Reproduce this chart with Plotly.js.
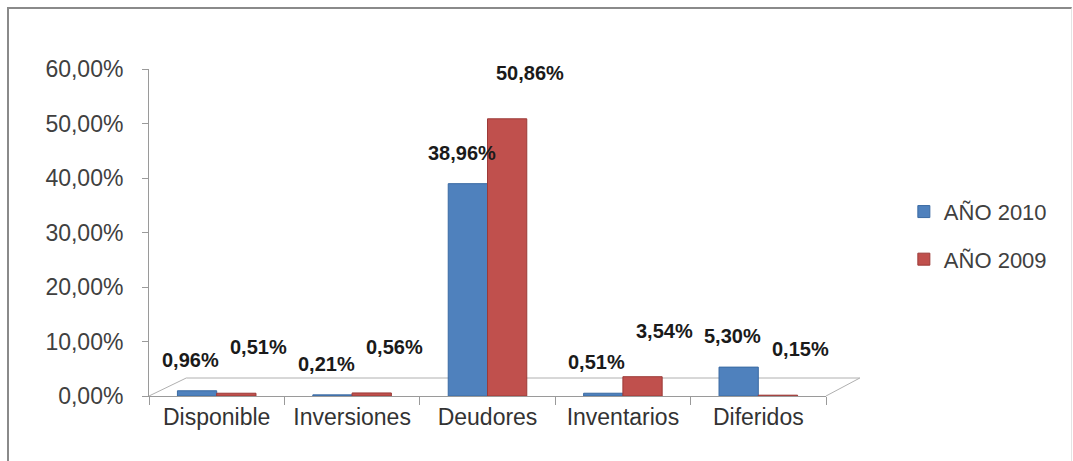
<!DOCTYPE html>
<html>
<head>
<meta charset="utf-8">
<script src="https://cdn.plot.ly/plotly-3.0.1.min.js"></script>
<style>
html,body{margin:0;padding:0;background:#fff;}
#chart{width:1073px;height:461px;}
#frame{position:absolute;left:7px;top:7px;width:1062px;height:470px;border-left:2px solid #8a8a8a;border-top:2px solid #8a8a8a;border-right:1px solid #e4e4e4;pointer-events:none;}
</style>
</head>
<body>
<div id="chart"></div>
<div id="frame"></div>
<script>
const categories = ["Disponible", "Inversiones", "Deudores", "Inventarios", "Diferidos"];
const seriesNames = ["AÑO 2010", "AÑO 2009"];
const values2010 = [0.96, 0.21, 38.96, 0.51, 5.30];
const values2009 = [0.51, 0.56, 50.86, 3.54, 0.15];
const yTicks = [0, 10, 20, 30, 40, 50, 60];
const yTickText = yTicks.map(v => v.toFixed(2).replace(".", ",") + "%");

const fmt = v => v.toFixed(2).replace(".", ",") + "%";
const labelFont = {family: "Liberation Sans, Arial, sans-serif", size: 20, color: "#1a1a1a", weight: "bold"};

const traces = [
  {
    type: "bar", name: seriesNames[0], legendgroup: "a", x: categories, y: values2010,
    marker: {color: "#4F81BD", line: {color: "#3a6aa3", width: 1}},
    cliponaxis: false, hoverinfo: "x+y"
  },
  {
    type: "bar", name: seriesNames[1], legendgroup: "b", x: categories, y: values2009,
    marker: {color: "#C0504D", line: {color: "#9c3a37", width: 1}},
    cliponaxis: false, hoverinfo: "x+y"
  }
];

// Data labels anchored on each bar's value (series style offsets only)
const annotations = [];
categories.forEach((c, i) => {
  annotations.push({x: c, y: values2010[i], xref: "x", yref: "y", text: "<b>" + fmt(values2010[i]) + "</b>",
    showarrow: false, xanchor: "center", yanchor: "middle", xshift: -26, yshift: 31, font: labelFont});
  annotations.push({x: c, y: values2009[i], xref: "x", yref: "y", text: "<b>" + fmt(values2009[i]) + "</b>",
    showarrow: false, xanchor: "center", yanchor: "middle", xshift: 42, yshift: 46, font: labelFont});
});

const layout = {
  width: 1073, height: 461,
  margin: {l: 149, r: 247, t: 69, b: 65},
  paper_bgcolor: "#ffffff", plot_bgcolor: "#ffffff",
  separators: ",.",
  barmode: "group",
  bargap: 0.42, bargroupgap: 0,
  font: {family: "Liberation Sans, Arial, sans-serif", color: "#404040", size: 22},
  showlegend: true,
  legend: {x: 1.115, y: 0.49, xanchor: "left", yanchor: "middle",
           font: {size: 22, color: "#404040"}, tracegroupgap: 16, itemwidth: 30},
  xaxis: {
    type: "category", range: [-0.5, categories.length - 0.5], autorange: false,
    showgrid: false, zeroline: false,
    showline: true, linecolor: "#9a9a9a", linewidth: 1,
    ticks: "outside", tickson: "boundaries", ticklen: 8, tickcolor: "#9a9a9a",
    tickfont: {size: 23, color: "#333333"}, fixedrange: true
  },
  yaxis: {
    range: [0, 60], autorange: false, tickmode: "array", tickvals: yTicks, ticktext: yTickText,
    showgrid: false, zeroline: false,
    showline: true, linecolor: "#9a9a9a", linewidth: 1,
    ticks: "outside", ticklen: 6, tickcolor: "#9a9a9a", ticklabelstandoff: 14,
    tickfont: {size: 23, color: "#404040"}, fixedrange: true
  },
  annotations: annotations,
  shapes: [
    {type: "path", xref: "paper", yref: "paper",
     path: "M 0 0 L 0.055 0.055 L 1.05 0.055 L 1 0",
     line: {color: "#b0b0b0", width: 1}, fillcolor: "rgba(0,0,0,0)", layer: "below"}
  ]
};

Plotly.newPlot("chart", traces, layout, {displayModeBar: false, staticPlot: true});
</script>
</body>
</html>
